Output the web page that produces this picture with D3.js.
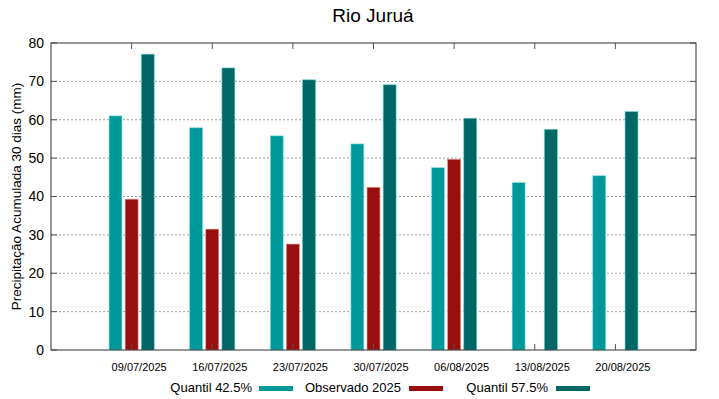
<!DOCTYPE html>
<html><head><meta charset="utf-8">
<script src="https://cdn.jsdelivr.net/npm/d3@7"></script>
<style>body{margin:0;background:#fff}svg{display:block;font-family:"Liberation Sans",Arial,sans-serif}</style>
</head><body><svg id="c" width="719" height="399"></svg>
<script>
const categories = ["09/07/2025","16/07/2025","23/07/2025","30/07/2025","06/08/2025","13/08/2025","20/08/2025"];
const q425 = [61.0, 57.9, 55.8, 53.7, 47.5, 43.6, 45.4];
const obs2025 = [39.3, 31.5, 27.6, 42.4, 49.7, null, null];
const q575 = [77.1, 73.5, 70.4, 69.1, 60.4, 57.5, 62.1];
const yTicks = [0,10,20,30,40,50,60,70,80];
const seriesNames = ["Quantil 42.5%","Observado 2025","Quantil 57.5%"];
const colors = ["#009999","#990f0f","#006666"];
const strokes = ["#7fdede","#e08a8a","#66c8c8"];

const svg = d3.select("#c");
const L=51, R=696, T=43, B=350;
const x = d3.scaleLinear().domain([-1, categories.length]).range([L,R]);
const y = d3.scaleLinear().domain([0,80]).range([B,T]);

// grid
svg.append("g").selectAll("line").data(yTicks.filter(d=>d>0&&d<80)).join("line")
  .attr("x1",L).attr("x2",R).attr("y1",d=>y(d)).attr("y2",d=>y(d))
  .attr("stroke","#a0a0a0").attr("stroke-width",1).attr("stroke-dasharray","2,2");

// bars
const series=[q425,obs2025,q575];
const offs=[-0.2,0,0.2], bw=0.16;
series.forEach((s,si)=>{
  svg.append("g").selectAll("rect").data(s.map((v,i)=>({v,i})).filter(d=>d.v!=null)).join("rect")
    .attr("x",d=>x(d.i+offs[si]-bw/2)).attr("width",x(bw)-x(0))
    .attr("y",d=>y(d.v)).attr("height",d=>B-y(d.v))
    .attr("fill",colors[si]).attr("stroke",strokes[si]).attr("stroke-width",0.6);
});

// axes
const yAxis = d3.axisLeft(y).tickValues(yTicks).tickSize(0).tickPadding(7);
const gy = svg.append("g").attr("transform",`translate(${L},0)`).call(yAxis);
gy.select(".domain").remove();
gy.selectAll("text").attr("font-size",14).attr("fill","#000").attr("font-family","Liberation Sans, Arial, sans-serif");

const xAxis = d3.axisBottom(x).tickValues(d3.range(categories.length)).tickFormat(i=>categories[i]).tickSize(0).tickPadding(13);
const gx = svg.append("g").attr("transform",`translate(0,${B})`).call(xAxis);
gx.select(".domain").remove();
gx.selectAll("text").attr("font-size",11).attr("fill","#000").attr("dx",7).attr("font-family","Liberation Sans, Arial, sans-serif");

// tick marks (mirror)
const tk = svg.append("g").attr("stroke","#555").attr("stroke-width",1);
yTicks.forEach(v=>{
  tk.append("line").attr("x1",L).attr("x2",L+6).attr("y1",y(v)).attr("y2",y(v));
  tk.append("line").attr("x1",R).attr("x2",R-6).attr("y1",y(v)).attr("y2",y(v));
});
d3.range(categories.length).forEach(i=>{
  tk.append("line").attr("x1",x(i)).attr("x2",x(i)).attr("y1",B).attr("y2",B-6);
  tk.append("line").attr("x1",x(i)).attr("x2",x(i)).attr("y1",T).attr("y2",T+6);
});

// frame
svg.append("rect").attr("x",L).attr("y",T).attr("width",R-L).attr("height",B-T)
  .attr("fill","none").attr("stroke","#333").attr("stroke-width",1);

// title
svg.append("text").attr("x",373).attr("y",22).attr("text-anchor","middle")
  .attr("font-size",19).text("Rio Juruá");

// y label
svg.append("text").attr("transform",`translate(21,${(T+B)/2}) rotate(-90)`)
  .attr("text-anchor","middle").attr("font-size",13.5).text("Precipitação Acumulada 30 dias (mm)");

// legend
const legTextEnd=[252,401,548], legSw=[259,409,556];
seriesNames.forEach((n,i)=>{
  svg.append("text").attr("x",legTextEnd[i]).attr("y",392).attr("text-anchor","end").attr("font-size",13).text(n);
  svg.append("rect").attr("x",legSw[i]).attr("y",386).attr("width",34).attr("height",5).attr("fill",colors[i]);
});
</script></body></html>
